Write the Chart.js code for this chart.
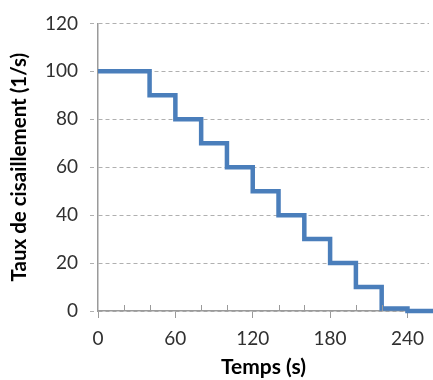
<!DOCTYPE html>
<html><head><meta charset="utf-8">
<script src="https://cdn.jsdelivr.net/npm/chart.js@4"></script>
<style>html,body{margin:0;padding:0;background:#fff;overflow:hidden}#wrap{width:433px;height:380px}</style>
</head><body><div id="wrap"><canvas id="c" width="433" height="380"></canvas></div>
<script>
const times = [0, 40, 60, 80, 100, 120, 140, 160, 180, 200, 220, 240, 260];
const shearRate = [100, 90, 80, 70, 60, 50, 40, 30, 20, 10, 1, 0, 0];
const xTickLabels = [0, 60, 120, 180, 240];
const yTickLabels = [0, 20, 40, 60, 80, 100, 120];
const xTitle = 'Temps (s)';
const yTitle = 'Taux de cisaillement (1/s)';

const minorTicks = {
  id: 'minorTicks',
  afterDatasetsDraw(chart) {
    const s = chart.scales.x, ctx = chart.ctx;
    ctx.save();
    ctx.strokeStyle = '#9a9a9a'; ctx.lineWidth = 1;
    s.ticks.forEach(t => {
      if (!xTickLabels.includes(t.value)) {
        const px = Math.round(s.getPixelForValue(t.value)) + 0.5;
        ctx.beginPath(); ctx.moveTo(px, s.top); ctx.lineTo(px, s.top - 6); ctx.stroke();
      }
    });
    ctx.restore();
  }
};

new Chart(document.getElementById('c'), {
  type: 'line',
  data: { datasets: [{
    data: times.map((t, i) => ({x: t, y: shearRate[i]})),
    stepped: 'before',
    borderColor: '#4a7ebb', borderWidth: 4.5, pointRadius: 0, fill: false, clip: false
  }]},
  options: {
    responsive: false, animation: false,
    layout: { padding: { top: 21, right: 0, left: 0, bottom: 0 } },
    plugins: { legend: { display: false }, tooltip: { enabled: false } },
    scales: {
      x: {
        type: 'linear', min: 0, max: 256.7,
        afterBuildTicks: s => { s.ticks = []; for (let v = 0; v <= 240; v += 20) s.ticks.push({value: v}); },
        afterFit: s => { s.height = 69; },
        grid: { drawOnChartArea: false, drawTicks: true, tickLength: 7,
          tickColor: c => (c.tick && xTickLabels.includes(c.tick.value)) ? '#9a9a9a' : 'rgba(0,0,0,0)', tickWidth: 1 },
        border: { color: '#9a9a9a', width: 1.5 },
        ticks: { autoSkip: false, maxRotation: 0, padding: 9, color: '#303030',
          font: { family: 'Lato', size: 19 },
          callback: v => xTickLabels.includes(v) ? String(v) : '' },
        title: { display: true, text: xTitle, color: '#000', padding: { top: 0, bottom: 0 },
          font: { family: 'Lato', size: 21, weight: 'bold' } }
      },
      y: {
        min: 0, max: 120,
        afterBuildTicks: s => { s.ticks = yTickLabels.map(v => ({value: v})); },
        afterFit: s => { s.width = 98; },
        grid: { color: '#b0b0b0', tickBorderDash: [4, 3], tickLength: 8, lineWidth: 1, drawTicks: true },
        border: { color: '#9a9a9a', width: 1.5, dash: [4, 3] },
        ticks: { padding: 12, color: '#303030', font: { family: 'Lato', size: 19 } },
        title: { display: true, text: yTitle, color: '#000', padding: { top: 7, bottom: 0 },
          font: { family: 'Lato', size: 20.5, weight: 'bold' } }
      }
    }
  },
  plugins: [minorTicks]
});
</script></body></html>
